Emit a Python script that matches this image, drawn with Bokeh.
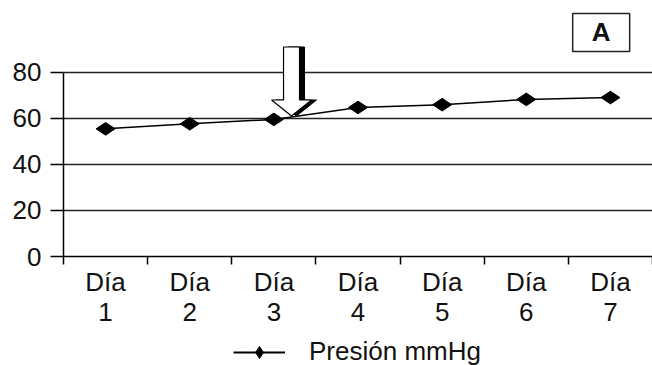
from bokeh.plotting import figure
from bokeh.layouts import column
from bokeh.models import (Range1d, FixedTicker, Legend, LegendItem, ColumnDataSource)
from bokeh.core.properties import value
from bokeh.embed import file_html
from bokeh.resources import INLINE
import math

# ---- data ----
days = [1, 2, 3, 4, 5, 6, 7]
day_labels = ["Día\n1", "Día\n2", "Día\n3", "Día\n4", "Día\n5", "Día\n6", "Día\n7"]
presion = [55.5, 57.7, 59.6, 64.8, 66.0, 68.3, 69.1]
y_ticks = [0, 20, 40, 60, 80]
series_name = "Presión mmHg"
panel_tag = "A"

FONT = "Liberation Sans"

p = figure(width=652, height=330, output_backend="svg", toolbar_location=None,
           x_range=Range1d(0.5, 7.5), y_range=Range1d(0, 111.3),
           min_border_left=63, min_border_right=0, min_border_top=0,
           min_border_bottom=74)
p.outline_line_color = None
p.background_fill_color = "white"
p.border_fill_color = "white"

# x axis: minor ticks at boundaries, labels at centers
p.xaxis.ticker = FixedTicker(ticks=days, minor_ticks=[d - 0.5 for d in days] + [7.5])
p.xaxis.major_label_overrides = {d: l for d, l in zip(days, day_labels)}
p.xaxis.major_tick_out = 0
p.xaxis.major_tick_in = 0
p.xaxis.minor_tick_out = 8
p.xaxis.minor_tick_in = 0
p.xaxis.minor_tick_line_color = "black"
p.xaxis.minor_tick_line_width = 1.5
p.xaxis.axis_line_color = "black"
p.xaxis.axis_line_width = 1.5
p.xaxis.major_label_text_font = FONT
p.xaxis.major_label_text_font_size = "26px"
p.xaxis.major_label_text_color = "#111111"
p.xaxis.major_label_text_line_height = 1.0
p.xaxis.major_label_standoff = 2

# y axis
p.yaxis.ticker = FixedTicker(ticks=y_ticks)
p.yaxis.bounds = (0, 80)
p.yaxis.major_tick_out = 13
p.yaxis.major_tick_in = 0
p.yaxis.minor_tick_out = 0
p.yaxis.minor_tick_in = 0
p.yaxis.axis_line_color = "black"
p.yaxis.axis_line_width = 1.5
p.yaxis.major_tick_line_width = 1.5
p.yaxis.major_label_text_font = FONT
p.yaxis.major_label_text_font_size = "26px"
p.yaxis.major_label_text_color = "#111111"
p.yaxis.major_label_standoff = 9

p.xgrid.grid_line_color = None
p.ygrid.ticker = FixedTicker(ticks=y_ticks)
p.ygrid.grid_line_color = "#222222"
p.ygrid.grid_line_width = 1.5

# arrow annotation (hollow block arrow with shadow)
ax = 3.21     # x centre (category units)
px_x = 589 / 7.0   # pixels per category unit
px_y = 2.3         # pixels per y unit
def sx(dx_px):
    return ax + dx_px / px_x
def sy(py):
    return (256 - py) / px_y
half_shaft = 8
half_head = 20
shaft_top, head_top, tip = 46.5, 99.5, 115.5
arrow_xs = [sx(-half_shaft), sx(half_shaft), sx(half_shaft), sx(half_head), sx(0),
            sx(-half_head), sx(-half_shaft)]
arrow_ys = [sy(shaft_top), sy(shaft_top), sy(head_top), sy(head_top), sy(tip),
            sy(head_top), sy(head_top)]
shadow_xs = [x + 5 / px_x for x in arrow_xs]
p.patch(shadow_xs, arrow_ys, fill_color="black", line_color="black", line_width=1)
p.patch(arrow_xs, arrow_ys, fill_color="white", line_color="black", line_width=1.2)

# series
src = ColumnDataSource(dict(x=days, y=presion))
ln = p.line("x", "y", source=src, line_color="black", line_width=1.5)
sc = p.scatter("x", "y", source=src, marker="diamond", size=19, angle=math.pi / 2,
               fill_color="black", line_color="black")

# panel tag box "A"
tag_x = 6.89
tag_y = (256 - 32) / px_y
p.rect([tag_x], [tag_y], width=57, height=38, width_units="screen", height_units="screen",
       fill_color="white", line_color="#222222", line_width=1.5)
p.text([tag_x], [tag_y], text=[panel_tag], text_font=value(FONT), text_font_style="bold",
       text_font_size="26px", text_align="center", text_baseline="middle", text_color="#111111")

# legend strip: a second figure sharing the same series, whose view only shows the legend
lg = figure(width=652, height=35, output_backend="svg", toolbar_location=None,
            x_range=Range1d(100, 101), y_range=Range1d(0, 111.3),
            min_border=0, x_axis_location=None, y_axis_location=None)
lg.outline_line_color = None
lg.grid.visible = False
lg_ln = lg.line("x", "y", source=src, line_color="black", line_width=2)
lg_sc = lg.scatter("x", "y", source=src, marker="diamond", size=19, angle=math.pi / 2,
                   fill_color="black", line_color="black")
legend = Legend(items=[LegendItem(label=series_name, renderers=[lg_ln, lg_sc])],
                location=(170, -2), orientation="horizontal",
                label_text_font=FONT, label_text_font_size="26px", label_text_color="#111111",
                label_height=20, glyph_width=52, glyph_height=30, label_standoff=24,
                border_line_color=None, background_fill_alpha=0,
                padding=0, margin=0, spacing=0)
lg.add_layout(legend)

layout = column(p, lg, spacing=0)
open("out.html", "w").write(file_html(layout, INLINE))
